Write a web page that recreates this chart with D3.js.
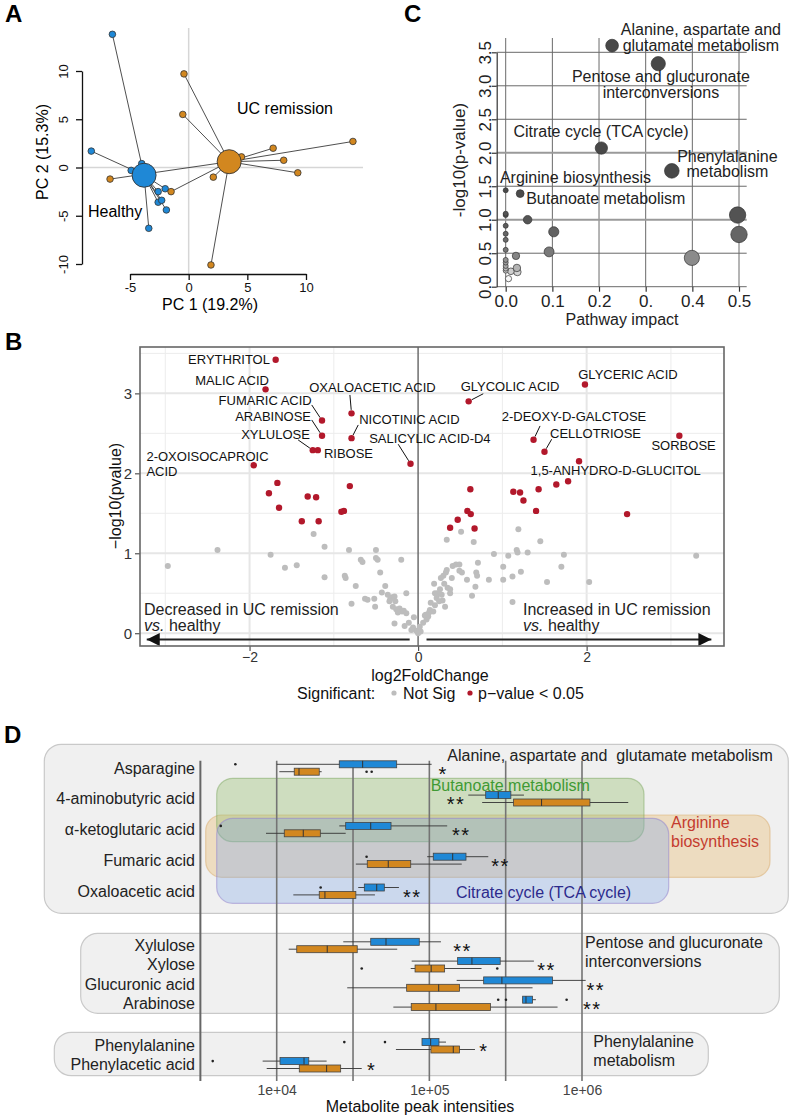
<!DOCTYPE html>
<html><head><meta charset="utf-8">
<script src="https://cdn.jsdelivr.net/npm/d3@7"></script>
<style>body{margin:0;background:#fff;}</style>
</head><body>
<script>
const FONT = "'Liberation Sans', Arial, Helvetica, sans-serif";

// ================= DATA =================
// Panel A : PCA
const pcaHealthyX = [-6.5,-8.3,-4.9,-4.0,-2.6,-2.0,-2.6,-2.3,-1.9,-3.4];
const pcaHealthyY = [13.8,1.7,-0.3,0.4,-2.5,-2.2,-3.6,-3.4,-4.4,-6.3];
const pcaUCX = [-0.4,-0.5,-6.7,-1.5,2.1,1.9,4.5,7.2,8.1,9.3,14.0];
const pcaUCY = [9.7,5.5,-1.2,-2.5,-1.0,-10.1,1.1,2.0,0.75,-0.55,2.7];
const pcaCentroidX = [-3.8,3.45];
const pcaCentroidY = [-0.8,0.6];
const pcaXTicks = [-5,0,5,10];
const pcaYTicks = [-10,-5,0,5,10];

// Panel C : pathway analysis
const pathwayImpact = [0.228,0.327,0.205,0.356,0.031,0,0.497,0.5,0.399,0,0,0.047,0.103,0.093,0.022,0.024,0.025,0.011,0.006,0,0,0,0,0,0,0,0,0];
const pathwayLogP   = [3.60,3.33,2.07,1.73,1.39,1.44,1.07,0.78,0.43,1.09,1.07,1.00,0.82,0.52,0.46,0.28,0.22,0.23,0.12,0.91,0.79,0.70,0.55,0.40,0.36,0.31,0.27,0.24];
const pathwayLabels = [["Alanine, aspartate and","glutamate metabolism"],["Pentose and glucuronate","interconversions"],["Citrate cycle (TCA cycle)"],["Phenylalanine","metabolism"],["Butanoate metabolism"],["Arginine biosynthesis"]];
const cXTicks = [0,0.1,0.2,0.3,0.4,0.5];
const cXTickLabels = ["0.0","0.1","0.2","0.","0.4","0.5"];
const cYTicks = [0,0.5,1,1.5,2,2.5,3,3.5];

// Panel B : volcano
const volcGreyX = [-2.97,-2.38,-1.75,-1.58,-1.44,-1.24,-1.11,-1.11,-0.87,-0.86,-0.82,-0.74,-0.79,-0.68,-0.66,-0.63,-0.60,-0.52,-0.51,-0.50,-0.48,-0.45,-0.43,-0.39,-0.20,-0.14,
  -0.36,-0.33,-0.31,-0.28,-0.27,-0.34,-0.30,-0.26,-0.22,-0.19,-0.17,-0.14,-0.24,-0.28,-0.16,-0.06,-0.11,-0.05,-0.02,0.0,0.03,-0.08,0.02,0.06,0.08,0.10,0.12,
  0.09,0.13,0.14,0.18,0.20,0.15,0.22,0.23,0.26,0.28,0.29,0.20,0.25,0.31,0.32,0.19,0.30,0.33,0.34,0.27,0.35,0.38,0.40,0.41,0.45,0.49,0.49,0.52,0.34,0.51,0.58,0.64,0.68,0.66,0.69,0.70,0.71,0.84,0.90,1.01,1.01,1.07,1.12,1.12,1.17,1.18,1.19,1.22,1.30,1.45,1.53,1.70,1.73,2.03,3.30,0.38,-0.50];
const volcGreyY = [0.84,1.04,0.98,0.82,0.85,1.24,1.08,0.70,0.72,0.69,1.04,0.59,0.37,0.92,0.89,0.43,0.42,0.43,0.33,1.04,0.92,0.76,0.51,0.59,0.92,0.50,
  0.48,0.43,0.45,0.46,0.40,0.40,0.33,0.30,0.31,0.27,0.28,0.25,0.26,0.12,0.09,0.07,0.13,0.20,0.03,0.00,0.02,0.04,0.08,0.13,0.22,0.17,0.21,
  0.23,0.26,0.29,0.27,0.35,0.38,0.44,0.50,0.55,0.48,0.41,0.50,0.40,0.62,0.33,0.62,0.72,0.76,0.79,0.69,0.57,0.55,0.69,0.84,0.86,0.86,0.78,0.76,1.17,1.27,0.67,0.47,0.58,1.14,0.76,0.72,0.88,0.67,0.99,0.83,0.67,0.97,0.71,0.39,1.04,1.01,1.30,0.77,1.01,1.15,0.64,0.83,0.98,0.64,0.97,0.50,0.94];
const volcRedX = [-1.67,-1.77,-1.65,-1.31,-1.21,-0.81,-0.91,-0.88,-1.38,-1.18,0.38,0.47,0.62,0.585,0.625,0.67,1.13,1.21,1.25,1.43,1.40,1.64,1.78,2.48];
const volcRedY = [1.88,1.75,1.57,1.71,1.70,1.84,1.52,1.53,1.40,1.40,1.32,1.42,1.80,1.53,1.49,1.31,1.77,1.76,1.66,1.80,1.53,1.86,1.90,1.49];
const volcLabelNames = ["ERYTHRITOL","MALIC ACID","FUMARIC ACID","ARABINOSE","OXALOACETIC ACID","NICOTINIC ACID","XYLULOSE","RIBOSE","2-OXOISOCAPROIC\nACID","SALICYLIC ACID-D4","GLYCOLIC ACID","GLYCERIC ACID","2-DEOXY-D-GALCTOSE","CELLOTRIOSE","SORBOSE","1,5-ANHYDRO-D-GLUCITOL"];
const volcLabelX = [-1.69,-1.81,-1.14,-1.14,-0.79,-0.79,-1.25,-1.19,-1.95,-0.09,0.60,1.98,1.37,1.50,3.10,1.91];
const volcLabelY = [3.42,3.05,2.66,2.47,2.75,2.44,2.29,2.29,2.10,2.12,2.90,3.11,2.42,2.27,2.47,2.15];
const volcXTicks = [-2,0,2];
const volcYTicks = [0,1,2,3];

// Panel D : boxplots (metabolite peak intensities)
const metabolites = ["Asparagine","4-aminobutyric acid","α-ketoglutaric acid","Fumaric acid","Oxaloacetic acid","Xylulose","Xylose","Glucuronic acid","Arabinose","Phenylalanine","Phenylacetic acid"];
const healthyBox = [
 [10000,25700,36560,61100,103500],[179900,233900,282700,342000,416600],[25700,28310,41300,56100,130900],
 [96800,106100,142200,173800,243200],[34200,37500,45200,50700,63200],[27300,41300,52000,85900,119100],
 [76600,153200,190100,291200,484200],[151000,226800,298700,641000,1057000],[408300,408300,429500,474300,498900],
 [89500,89500,102000,115600,128500],[8090,10510,15100,16220,21240]];
const healthyOutliers = [[5360],[],[4300],[38800],[19410],[],[],[],[282500,317600,792800],[27730,51200],[3810]];
const ucBox = [
 [10400,13030,14000,19000,19700],[221800,356400,543400,1127000,2009000],[8510,11210,14930,19310,28310],
 [33000,39200,53800,75500,163000],[12850,19000,20700,33000,44000],[11990,13530,21430,33700,61600],
 [75500,80600,102800,125900,219700],[28980,71000,115100,157800,474300],[58100,76100,110400,251800,691800],
 [60400,102400,143500,157800,199000],[8600,14060,21240,26240,36060]];
const ucOutliers = [[38800,41900],[],[],[],[],[],[36060,278600],[],[],[],[]];
const significance = ["*","**","**","**","**","**","**","**","**","*","*"];
const significancePos = [123300,149300,161800,292400,77400,164800,586100,1230000,1167000,228000,41900];
const dTickValues = [1e4,1e5,1e6];
const dTickLabels = ["1e+04","1e+05","1e+06"];

// ================= DRAW =================
const svg = d3.select("body").append("svg").attr("width",790).attr("height",1120)
  .style("font-family",FONT).style("background","#fff");

function styleAxis(g, fs, col, lineCol, lw){
  g.attr("font-family",FONT).attr("font-size",fs);
  g.selectAll("text").attr("fill",col);
  g.selectAll(".tick line").attr("stroke",lineCol).attr("stroke-width",lw);
  g.select(".domain").attr("stroke",lineCol).attr("stroke-width",lw);
}
function letter(t,x,y){ svg.append("text").attr("x",x).attr("y",y).attr("font-size",24).attr("font-weight","bold").text(t); }
letter("A",5,22); letter("C",404,22); letter("B",5,350); letter("D",4,743);

// ---------- Panel A ----------
const BLUE="#1f88d6", ORANGE="#d2871f";
const ax = d3.scaleLinear().domain([-5,10]).range([130,306]);
const ay = d3.scaleLinear().domain([-10,10]).range([264,71]);
const gA = svg.append("g");
gA.append("line").attr("x1",ax(0)).attr("x2",ax(0)).attr("y1",28).attr("y2",274).attr("stroke","#d6d6d6").attr("stroke-width",1.5);
gA.append("line").attr("x1",82).attr("x2",363).attr("y1",ay(0)).attr("y2",ay(0)).attr("stroke","#d6d6d6").attr("stroke-width",1.5);
const intFmt = d => String(d);
const gAx = gA.append("g").attr("transform","translate(0,274)")
  .call(d3.axisBottom(ax).tickValues(pcaXTicks).tickSize(6).tickSizeOuter(0).tickPadding(3).tickFormat(intFmt));
styleAxis(gAx,13,"#111","#111",1.3);
const gAy = gA.append("g").attr("transform","translate(82,0)")
  .call(d3.axisLeft(ay).tickValues(pcaYTicks).tickSize(6).tickSizeOuter(0).tickFormat(intFmt));
styleAxis(gAy,13,"#111","#111",1.3);
gAy.selectAll("text").attr("transform","rotate(-90)").attr("x",0).attr("y",-14).attr("dy",0).attr("text-anchor","middle");
gA.append("text").attr("x",210).attr("y",310).attr("text-anchor","middle").attr("font-size",16).text("PC 1 (19.2%)");
gA.append("text").attr("transform","translate(42,152) rotate(-90)").attr("text-anchor","middle").attr("dy","0.35em").attr("font-size",16).text("PC 2 (15.3%)");
const pcaSets = [
  {xs:pcaHealthyX, ys:pcaHealthyY, c:0, col:BLUE},
  {xs:pcaUCX, ys:pcaUCY, c:1, col:ORANGE}];
pcaSets.forEach(s=>{
  s.xs.forEach((x,i)=>{
    gA.append("line").attr("x1",ax(pcaCentroidX[s.c])).attr("y1",ay(pcaCentroidY[s.c]))
      .attr("x2",ax(x)).attr("y2",ay(s.ys[i])).attr("stroke","#222").attr("stroke-width",0.8);
  });
});
pcaSets.forEach(s=>{
  s.xs.forEach((x,i)=>{
    gA.append("circle").attr("cx",ax(x)).attr("cy",ay(s.ys[i])).attr("r",3.3).attr("fill",s.col).attr("stroke","#333").attr("stroke-width",0.8);
  });
  gA.append("circle").attr("cx",ax(pcaCentroidX[s.c])).attr("cy",ay(pcaCentroidY[s.c])).attr("r",12).attr("fill",s.col).attr("stroke","#333").attr("stroke-width",0.9);
});
gA.append("text").attr("x",237).attr("y",113.5).attr("font-size",16).text("UC remission");
gA.append("text").attr("x",88).attr("y",216.5).attr("font-size",16).text("Healthy");

// ---------- Panel C ----------
const cx = d3.scaleLinear().domain([0,0.5]).range([505.7,739]);
const cy = d3.scaleLinear().domain([0,3.5]).range([286.7,52.3]);
const cr = d3.scaleSqrt().domain([0,0.5]).range([2.5,8.2]);
const cCol = d3.scaleLinear().domain([0.1,0.2,0.3,0.5,1.0,1.5]).range(["#ffffff","#dddddd","#aaaaaa","#7a7a7a","#555555","#484848"]).clamp(true);
const gC = svg.append("g");
cXTicks.forEach(t=>{
  gC.append("line").attr("x1",cx(t)).attr("x2",cx(t)).attr("y1",38).attr("y2",287).attr("stroke","#6a6a6a").attr("stroke-width",1);
});
cYTicks.forEach(t=>{
  const major = (t===1||t===2);
  gC.append("line").attr("x1",496.7).attr("x2",746.7).attr("y1",cy(t)).attr("y2",cy(t))
    .attr("stroke",major?"#9a9a9a":"#6a6a6a").attr("stroke-width",major?2:1);
});
const gCy = gC.append("g").attr("transform","translate(496.7,0)")
  .call(d3.axisLeft(cy).tickValues(cYTicks).tickFormat(d3.format(".1f")).tickSize(5).tickSizeOuter(0));
styleAxis(gCy,17,"#222","#333",1.2);
gCy.selectAll("text").attr("transform","rotate(-90)").attr("x",0).attr("y",-6).attr("dy",0).attr("text-anchor","middle");
const gCx = gC.append("g").attr("transform","translate(0,286.7)")
  .call(d3.axisBottom(cx).tickValues(cXTicks).tickFormat((d,i)=>cXTickLabels[i]).tickSize(5).tickSizeOuter(0).tickPadding(3));
styleAxis(gCx,17,"#222","#333",1.2);
gCx.select(".domain").remove();
gC.append("text").attr("x",622).attr("y",325).attr("text-anchor","middle").attr("font-size",16).attr("fill","#222").text("Pathway impact");
gC.append("text").attr("transform","translate(459,160) rotate(-90)").attr("text-anchor","middle").attr("dy","0.35em").attr("font-size",17).attr("fill","#222").text("-log10(p-value)");
const cOrder = d3.range(pathwayImpact.length).sort((a,b)=>pathwayLogP[a]-pathwayLogP[b]);
cOrder.forEach(i=>{
  gC.append("circle").attr("cx",cx(pathwayImpact[i])).attr("cy",cy(pathwayLogP[i])).attr("r",cr(pathwayImpact[i]))
    .attr("fill",cCol(pathwayLogP[i])).attr("stroke","#333").attr("stroke-width",0.7);
});
// label offsets (px) relative to their pathway point
const cLabelOffsets = [[88.8,[-10.2,5.2]],[2.6,[18.8,34.2]],[-0.4,[-10.8]],[55.6,[-9.1,6.1]],[85.6,[10.6]],[69.8,[-7.5]]];
const cLabelIndex = [0,1,2,3,4,5];
pathwayLabels.forEach((lines,k)=>{
  const i = cLabelIndex[k];
  const off = cLabelOffsets[k];
  lines.forEach((ln,j)=>{
    gC.append("text").attr("x",cx(pathwayImpact[i])+off[0]).attr("y",cy(pathwayLogP[i])+off[1][j])
      .attr("text-anchor","middle").attr("font-size",16).attr("fill","#222").text(ln);
  });
});

// ---------- Panel B ----------
const bx = d3.scaleLinear().domain([-3.3,3.63]).range([140,724]);
const by = d3.scaleLinear().domain([-0.16,3.58]).range([646,347]);
const gB = svg.append("g");
[-3,-1,1,3].forEach(t=>gB.append("line").attr("x1",bx(t)).attr("x2",bx(t)).attr("y1",347).attr("y2",646).attr("stroke","#ececec").attr("stroke-width",1));
[-2,2].forEach(t=>gB.append("line").attr("x1",bx(t)).attr("x2",bx(t)).attr("y1",347).attr("y2",646).attr("stroke","#e6e6e6").attr("stroke-width",2));
[0.5,1.5,2.5,3.5].forEach(t=>gB.append("line").attr("x1",140).attr("x2",724).attr("y1",by(t)).attr("y2",by(t)).attr("stroke","#ececec").attr("stroke-width",1));
volcYTicks.forEach(t=>gB.append("line").attr("x1",140).attr("x2",724).attr("y1",by(t)).attr("y2",by(t)).attr("stroke","#e6e6e6").attr("stroke-width",2));
gB.append("line").attr("x1",bx(0)).attr("x2",bx(0)).attr("y1",347).attr("y2",646).attr("stroke","#6e6e6e").attr("stroke-width",1.5);
const gBy = gB.append("g").attr("transform","translate(140,0)").call(d3.axisLeft(by).tickValues(volcYTicks).tickFormat(d3.format("d")).tickSize(5).tickSizeOuter(0).tickPadding(3));
styleAxis(gBy,15,"#333","#555",1.2); gBy.select(".domain").remove();
const gBx = gB.append("g").attr("transform","translate(0,646)").call(d3.axisBottom(bx).tickValues(volcXTicks).tickFormat(d3.format("d")).tickSize(5).tickSizeOuter(0).tickPadding(1));
styleAxis(gBx,14,"#333","#555",1.2); gBx.select(".domain").remove();
gB.append("text").attr("x",430).attr("y",681).attr("text-anchor","middle").attr("font-size",16).attr("fill","#111").text("log2FoldChange");
gB.append("text").attr("transform","translate(115,496) rotate(-90)").attr("text-anchor","middle").attr("dy","0.35em").attr("font-size",16).attr("fill","#111").text("−log10(pvalue)");
volcGreyX.forEach((x,i)=>gB.append("circle").attr("cx",bx(x)).attr("cy",by(volcGreyY[i])).attr("r",3).attr("fill","#bdbdbd"));
volcRedX.forEach((x,i)=>gB.append("circle").attr("cx",bx(x)).attr("cy",by(volcRedY[i])).attr("r",3.2).attr("fill","#b2182b"));
volcLabelX.forEach((x,i)=>gB.append("circle").attr("cx",bx(x)).attr("cy",by(volcLabelY[i])).attr("r",3.2).attr("fill","#b2182b"));
// label layout: [anchor, dx, dy(center), connector start dx, dy]
const volcLabelLayout = [
 ["end",-5.7,-0.5,null],["end",3.4,-9.4,null],["end",-10.3,-19.9,[-10.3,-15.6]],["end",-11,-19.1,[-10.3,-15.8]],
 ["start",-42.3,-26.1,[-1.6,-18.4]],["start",7.7,-18.9,[6.7,-13.2]],["end",-2.9,-15.9,[-14.6,-10.2]],["start",6.1,3.8,null],
 ["start",-107.3,-8.7,null],["start",-41.3,-25.5,[-12.3,-19.5]],["start",-8,-14.9,[14.6,-7.6]],["start",-6.7,-10.5,null],
 ["start",-31.8,-23.1,[6.5,-13.8]],["start",5.5,-18.5,[7.2,-12.5]],["start",-27.9,10.2,null],["start",-48.5,9.6,null]];
volcLabelNames.forEach((name,i)=>{
  const px = bx(volcLabelX[i]), py = by(volcLabelY[i]);
  const L = volcLabelLayout[i];
  const lines = name.split("\n");
  lines.forEach((ln,j)=>{
    gB.append("text").attr("x",px+L[1]).attr("y",py+L[2]+j*15).attr("dy","0.35em").attr("text-anchor",L[0])
      .attr("font-size",13).attr("fill","#111").text(ln);
  });
  if(L[3]){
    const sx = px+L[3][0], sy = py+L[3][1];
    const d = Math.hypot(px-sx,py-sy), k=(d-3.5)/d;
    gB.append("line").attr("x1",sx).attr("y1",sy).attr("x2",sx+(px-sx)*k).attr("y2",sy+(py-sy)*k).attr("stroke","#111").attr("stroke-width",1);
  }
});
// direction arrows
function arrow(x1,x2,y){
  gB.append("line").attr("x1",x1).attr("x2",x2).attr("y1",y).attr("y2",y).attr("stroke","#222").attr("stroke-width",2);
  const s = Math.sign(x2-x1);
  gB.append("path").attr("d",`M${x2},${y} L${x2-s*13},${y-6.5} L${x2-s*13},${y+6.5} Z`).attr("fill","#111");
}
arrow(bx(-0.1),bx(-3.22),by(-0.08));
arrow(bx(0.1),bx(3.48),by(-0.08));
function dirText(x, y, main){
  gB.append("text").attr("x",x).attr("y",y).attr("font-size",16).attr("fill","#222").text(main);
  const t = gB.append("text").attr("x",x).attr("y",y+16.5).attr("font-size",16).attr("fill","#222");
  t.append("tspan").attr("font-style","italic").text("vs.");
  t.append("tspan").text(" healthy");
}
dirText(144,614.8,"Decreased in UC remission");
dirText(523,614.8,"Increased in UC remission");
gB.append("rect").attr("x",140).attr("y",347).attr("width",584).attr("height",299).attr("fill","none").attr("stroke","#666").attr("stroke-width",1.6);
// legend
const gL = svg.append("g").attr("font-size",16).attr("fill","#111");
gL.append("text").attr("x",297).attr("y",699).text("Significant:");
gL.append("circle").attr("cx",394).attr("cy",693).attr("r",2.6).attr("fill","#bdbdbd");
gL.append("text").attr("x",403).attr("y",699).text("Not Sig");
gL.append("circle").attr("cx",470).attr("cy",693).attr("r",2.6).attr("fill","#b2182b");
gL.append("text").attr("x",478).attr("y",699).text("p−value < 0.05");

// ---------- Panel D ----------
const dx = d3.scaleLog().domain([1e4,1e6]).range([276.7,582]);
const gD = svg.append("g");
const groupRows = [metabolites.slice(0,5), metabolites.slice(5,9), metabolites.slice(9,11)];
const groupScales = [
  d3.scalePoint().domain(groupRows[0]).range([768,891.2]),
  d3.scalePoint().domain(groupRows[1]).range([945.5,1003.4]),
  d3.scalePoint().domain(groupRows[2]).range([1045.8,1064.8])];
function rowY(name){ for(const s of groupScales){ if(s.domain().includes(name)) return s(name);} }
// group panels
[[44.3,744.3,788.3,913.3],[80.7,933.3,779.3,1013.3],[54.3,1032.3,708.3,1075.7]].forEach(r=>{
  gD.append("rect").attr("x",r[0]).attr("y",r[1]).attr("width",r[2]-r[0]).attr("height",r[3]-r[1]).attr("rx",17)
    .attr("fill","#f0f0f0").attr("stroke","#c9c9c9").attr("stroke-width",1.2);
});
// pathway overlays
gD.append("rect").attr("x",205.7).attr("y",815).attr("width",564.3).attr("height",62.3).attr("rx",16)
  .attr("fill","rgba(231,183,103,0.35)").attr("stroke","rgba(215,165,95,0.45)").attr("stroke-width",1.2);
gD.append("rect").attr("x",216.7).attr("y",778.3).attr("width",427.3).attr("height",63.4).attr("rx",16)
  .attr("fill","rgba(150,188,110,0.38)").attr("stroke","rgba(120,165,90,0.45)").attr("stroke-width",1.2);
gD.append("rect").attr("x",216.7).attr("y",818.3).attr("width",452).attr("height",85).attr("rx",16)
  .attr("fill","rgba(129,168,232,0.33)").attr("stroke","rgba(150,135,205,0.55)").attr("stroke-width",1.2);
// vertical guides
[10**3.5,1e4,10**4.5,1e5,10**5.5,1e6].forEach((v,i)=>{
  gD.append("line").attr("x1",dx(v)).attr("x2",dx(v)).attr("y1",760.7).attr("y2",1081)
    .attr("stroke",i===0?"#666":"#747474").attr("stroke-width",i===0?2:1.6);
});
// text annotations of pathways
gD.append("text").attr("x",447.3).attr("y",761.2).attr("font-size",16).attr("fill","#222").style("white-space","pre").text("Alanine, aspartate and  glutamate metabolism");
gD.append("text").attr("x",430.7).attr("y",790.5).attr("font-size",16).attr("fill","#3f9a34").text("Butanoate metabolism");
gD.append("text").attr("x",671).attr("y",828.2).attr("font-size",16).attr("fill","#c43b2e").text("Arginine");
gD.append("text").attr("x",671).attr("y",847.2).attr("font-size",16).attr("fill","#c43b2e").text("biosynthesis");
gD.append("text").attr("x",456).attr("y",897.8).attr("font-size",16).attr("fill","#2b2a8c").text("Citrate cycle (TCA cycle)");
gD.append("text").attr("x",585).attr("y",947.8).attr("font-size",16).attr("fill","#222").text("Pentose and glucuronate");
gD.append("text").attr("x",585).attr("y",967.2).attr("font-size",16).attr("fill","#222").text("interconversions");
gD.append("text").attr("x",593.3).attr("y",1046.5).attr("font-size",16).attr("fill","#222").text("Phenylalanine");
gD.append("text").attr("x",593.3).attr("y",1066.2).attr("font-size",16).attr("fill","#222").text("metabolism");
// row labels
metabolites.forEach(m=>{
  gD.append("text").attr("x",195).attr("y",rowY(m)).attr("dy","0.35em").attr("text-anchor","end").attr("font-size",16).attr("fill","#222").text(m);
});
// boxplots
const BH = 7;
function drawBox(stats, outs, y, col){
  gD.append("line").attr("x1",dx(stats[0])).attr("x2",dx(stats[4])).attr("y1",y).attr("y2",y).attr("stroke","#333").attr("stroke-width",0.9);
  gD.append("rect").attr("x",dx(stats[1])).attr("y",y-BH/2).attr("width",Math.max(1,dx(stats[3])-dx(stats[1]))).attr("height",BH)
    .attr("fill",col).attr("stroke","#444").attr("stroke-width",0.8);
  gD.append("line").attr("x1",dx(stats[2])).attr("x2",dx(stats[2])).attr("y1",y-BH/2).attr("y2",y+BH/2).attr("stroke","#333").attr("stroke-width",1);
  outs.forEach(o=>gD.append("circle").attr("cx",dx(o)).attr("cy",y).attr("r",1.3).attr("fill","#222"));
}
metabolites.forEach((m,i)=>{
  const y = rowY(m);
  drawBox(healthyBox[i], healthyOutliers[i], y-3.7, BLUE);
  drawBox(ucBox[i], ucOutliers[i], y+3.7, ORANGE);
  gD.append("text").attr("x",dx(significancePos[i])).attr("y",y+1+11.5).attr("text-anchor","middle")
    .attr("font-size",20).attr("letter-spacing",1.5).attr("fill","#111").text(significance[i]);
});
// axis
const gDx = gD.append("g").attr("transform","translate(0,1081)")
  .call(d3.axisBottom(dx).tickValues(dTickValues).tickFormat((d,i)=>dTickLabels[i]).tickSize(0).tickPadding(4));
styleAxis(gDx,14,"#444","#777",1); gDx.select(".domain").remove();
gD.append("text").attr("x",420).attr("y",1112).attr("text-anchor","middle").attr("font-size",16).attr("fill","#111").text("Metabolite peak intensities");
</script>
</body></html>
